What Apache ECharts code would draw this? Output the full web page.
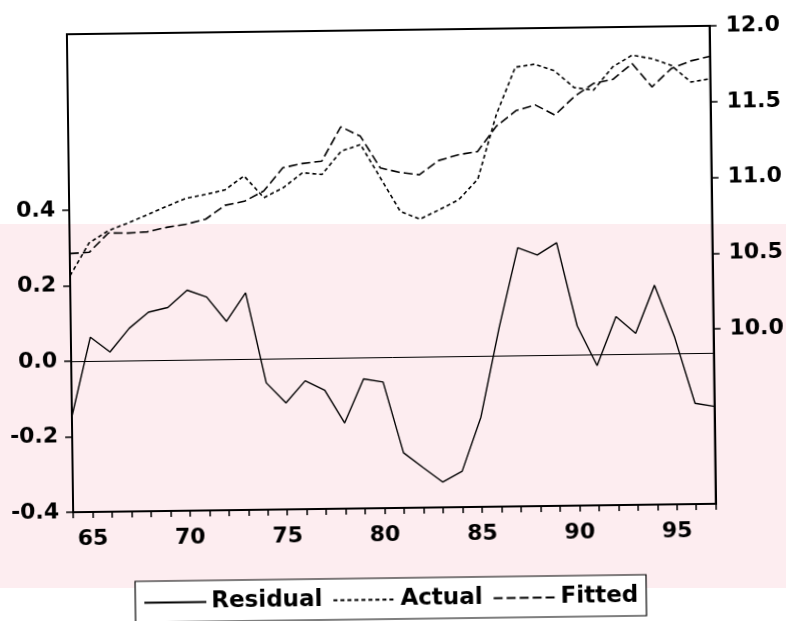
<!DOCTYPE html>
<html><head><meta charset="utf-8">
<script src="https://cdn.jsdelivr.net/npm/echarts@6/dist/echarts.min.js"></script>
<style>
html,body{margin:0;padding:0;background:#fff;overflow:hidden;width:786px;height:621px;}
#wm{position:absolute;left:0;top:224px;width:786px;height:364px;background:#fdedf0;}
#chart{position:absolute;left:0;top:0;width:786px;height:621px;transform:rotate(-0.75deg);transform-origin:393px 269px;}
</style></head><body>
<div id="wm"></div><div id="chart"></div>
<script>
const years = [64,65,66,67,68,69,70,71,72,73,74,75,76,77,78,79,80,81,82,83,84,85,86,87,88,89,90,91,92,93,94,95,96,97];
const residual = [-0.147,0.063,0.023,0.085,0.127,0.139,0.184,0.165,0.100,0.175,-0.064,-0.118,-0.060,-0.086,-0.173,-0.057,-0.066,-0.254,-0.294,-0.333,-0.305,-0.162,0.075,0.285,0.265,0.297,0.076,-0.030,0.099,0.054,0.181,0.042,-0.133,-0.142];
const actual = [10.406,10.622,10.701,10.749,10.802,10.856,10.908,10.931,10.959,11.050,10.905,10.969,11.066,11.053,11.205,11.247,11.025,10.803,10.750,10.810,10.874,11.009,11.436,11.744,11.762,11.717,11.605,11.586,11.738,11.813,11.789,11.743,11.631,11.651];
const fitted = [10.553,10.560,10.686,10.683,10.690,10.718,10.737,10.768,10.858,10.883,10.949,11.101,11.127,11.141,11.366,11.302,11.091,11.060,11.043,11.135,11.171,11.191,11.358,11.457,11.493,11.425,11.544,11.630,11.655,11.758,11.602,11.721,11.770,11.799];
const leftTicks = [-0.4,-0.2,0.0,0.2,0.4];
const rightTicks = [10.0,10.5,11.0,11.5,12.0];
const yearLabels = [65,70,75,80,85,90,95];

const pairs = arr => years.map((y,i)=>[y,arr[i]]);
const font = {fontFamily:'DejaVu Sans',fontWeight:'bold',fontSize:22,color:'#000'};
const chart = echarts.init(document.getElementById('chart'));
chart.setOption({
  animation:false,
  backgroundColor:'transparent',
  grid:{left:70,right:70,top:30,bottom:113,show:true,borderColor:'#000',borderWidth:2,backgroundColor:'transparent'},
  legend:{
    left:131, top:578, padding:[10,8,8,8], itemGap:10, itemWidth:62, itemHeight:14,
    backgroundColor:'#fff', borderColor:'#000', borderWidth:1.2,
    itemStyle:{opacity:0},
    textStyle:{fontFamily:'DejaVu Sans',fontWeight:'bold',fontSize:23,color:'#000'},
    data:['Residual','Actual','Fitted']
  },
  xAxis:{
    type:'value', min:years[0], max:years[years.length-1], interval:1,
    axisLine:{onZero:false,lineStyle:{color:'#000',width:2}},
    axisTick:{show:true,inside:false,length:6,lineStyle:{color:'#000',width:1.5}},
    axisLabel:{...font, margin:16, formatter:v=>yearLabels.includes(v)?String(v):''},
    splitLine:{show:false}
  },
  yAxis:[
    {type:'value', min:-0.4, max:0.866, position:'left',
     axisLine:{show:true,lineStyle:{color:'#000',width:2}},
     axisTick:{show:true,length:7,customValues:leftTicks,lineStyle:{color:'#000',width:1.5}},
     axisLabel:{...font, margin:14, customValues:leftTicks, formatter:v=>v.toFixed(1)},
     splitLine:{show:false}},
    {type:'value', min:8.847, max:12.0, position:'right',
     axisLine:{show:true,lineStyle:{color:'#000',width:2}},
     axisTick:{show:true,length:7,customValues:rightTicks,lineStyle:{color:'#000',width:1.5}},
     axisLabel:{...font, margin:16, customValues:rightTicks, formatter:v=>v.toFixed(1)},
     splitLine:{show:false}}
  ],
  series:[
    {name:'Residual', type:'line', yAxisIndex:0, data:pairs(residual), symbol:'none',
     lineStyle:{color:'#000',width:1.4,type:'solid'}, itemStyle:{color:'#000'},
     markLine:{silent:true,symbol:'none',label:{show:false},lineStyle:{color:'#000',width:1,type:'solid'},data:[{yAxis:0}]}},
    {name:'Actual', type:'line', yAxisIndex:1, data:pairs(actual), symbol:'none',
     lineStyle:{color:'#000',width:1.6,type:[4,3]}, itemStyle:{color:'#000'}},
    {name:'Fitted', type:'line', yAxisIndex:1, data:pairs(fitted), symbol:'none',
     lineStyle:{color:'#000',width:1.6,type:[9,4]}, itemStyle:{color:'#000'}}
  ]
});
</script>
</body></html>
